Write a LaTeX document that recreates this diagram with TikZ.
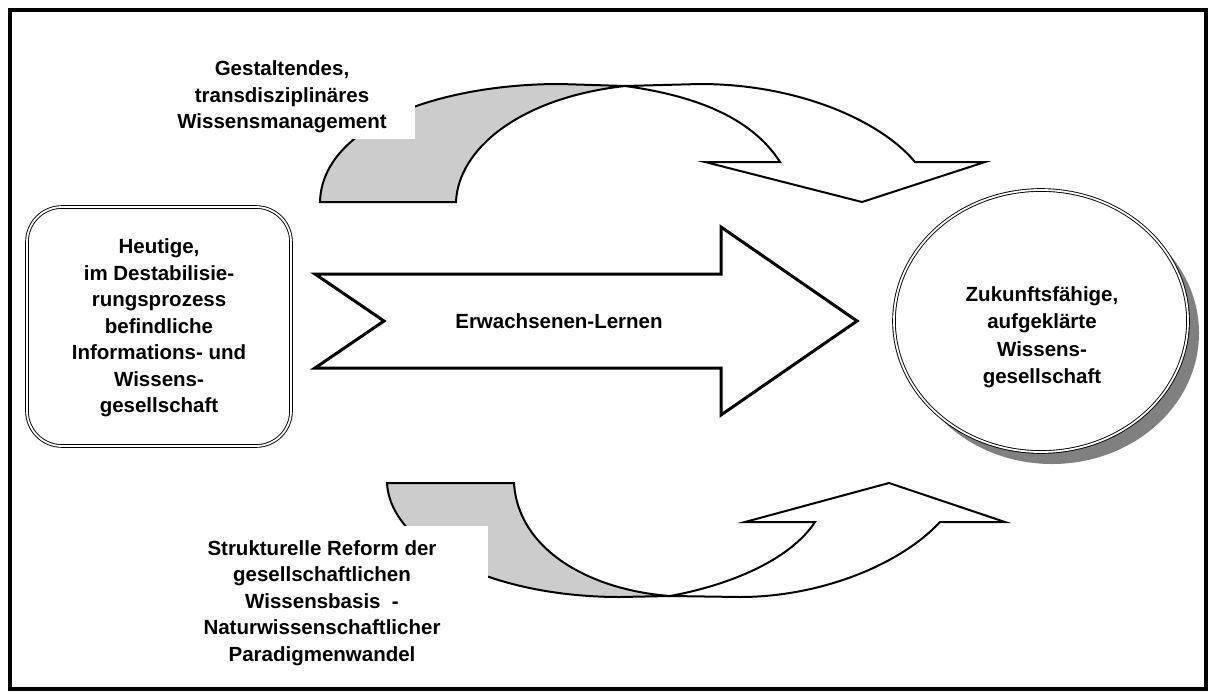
\documentclass[tikz,border=0pt]{standalone}
\usepackage{fontspec}
\setmainfont{Liberation Sans}
\usetikzlibrary{shapes.geometric}
\definecolor{bandgray}{RGB}{204,204,204}
\definecolor{shadowgray}{RGB}{128,128,128}
\begin{document}
\begin{tikzpicture}[x=1pt,y=-1pt,
  lbl/.style={font=\bfseries\fontsize{20.5}{26.5}\selectfont, align=center, inner sep=0pt},
  band/.style={draw=black, line width=2pt, line join=miter, miter limit=20},
  bigarrow/.style={draw=black, line width=3pt, line join=miter, miter limit=20, fill=white},
  dbl/.style={draw=black, double=white, double distance=1.8pt, line width=0.9pt}]
\useasboundingbox (0,0) rectangle (1216,699);
\fill[white] (0,0) rectangle (1216,699);
\draw[line width=4pt] (10,10) rectangle (1206,689);

% top curved arrow
\coordinate (P) at (625,86);
\filldraw[band, fill=bandgray] (320,202) -- (456,202) .. controls (458,150) and (518,98) .. (P)
  -- (560,84) .. controls (440,84) and (322,125) .. cycle;
\filldraw[band, fill=white] (P) -- (700,84) .. controls (800,84) and (882,122) .. (915,162)
  -- (985,162) -- (862,202) -- (705,162) -- (780,162)
  .. controls (750,115) and (690,95) .. cycle;

% bottom curved arrow
\coordinate (Q) at (670,596);
\filldraw[band, fill=bandgray] (387,483) -- (514,483) .. controls (518,550) and (590,590) .. (Q)
  -- (620,597) .. controls (490,597) and (390,545) .. cycle;
\filldraw[band, fill=white] (Q) -- (740,597) .. controls (820,597) and (900,565) .. (940,522)
  -- (1005,522) -- (889,483) -- (745,522) -- (815,522)
  .. controls (790,560) and (730,585) .. cycle;

% label backgrounds
\fill[white] (170,52) rectangle (415,139);
\fill[white] (150,526) rectangle (488,675);

\node[lbl] (toplbl) at (282,97) {Gestaltendes,\\transdisziplinäres\\Wissensmanagement};
\node[lbl] (botlbl) at (322,603) {Strukturelle Reform der\\gesellschaftlichen\\Wissensbasis\ \ -\\Naturwissenschaftlicher\\Paradigmenwandel};

% big arrow
\filldraw[bigarrow] (315,274) -- (721,274) -- (721,227) -- (857,321) -- (721,415)
  -- (721,368) -- (315,368) -- (384,321) -- cycle;
\node[lbl] (learn) at (559,321) {Erwachsenen-Lernen};

% left box
\node[dbl, rounded corners=35pt, minimum width=264pt, minimum height=239pt, inner sep=0pt] (today) at (159,326.5) {};
\node[lbl] (todaytxt) at (159,328) {Heutige,\\im Destabilisie-\\rungsprozess\\befindliche\\Informations- und\\Wissens-\\gesellschaft};

% ellipse
\fill[shadowgray] (1052,333) ellipse [x radius=147, y radius=131];
\node[dbl, fill=white, ellipse, minimum width=294pt, minimum height=262pt, inner sep=0pt] (future) at (1041,321) {};
\node[lbl, font=\bfseries\fontsize{20.5}{27.5}\selectfont] (futuretxt) at (1042,337) {Zukunftsfähige,\\aufgeklärte\\Wissens-\\gesellschaft};
\end{tikzpicture}
\end{document}
